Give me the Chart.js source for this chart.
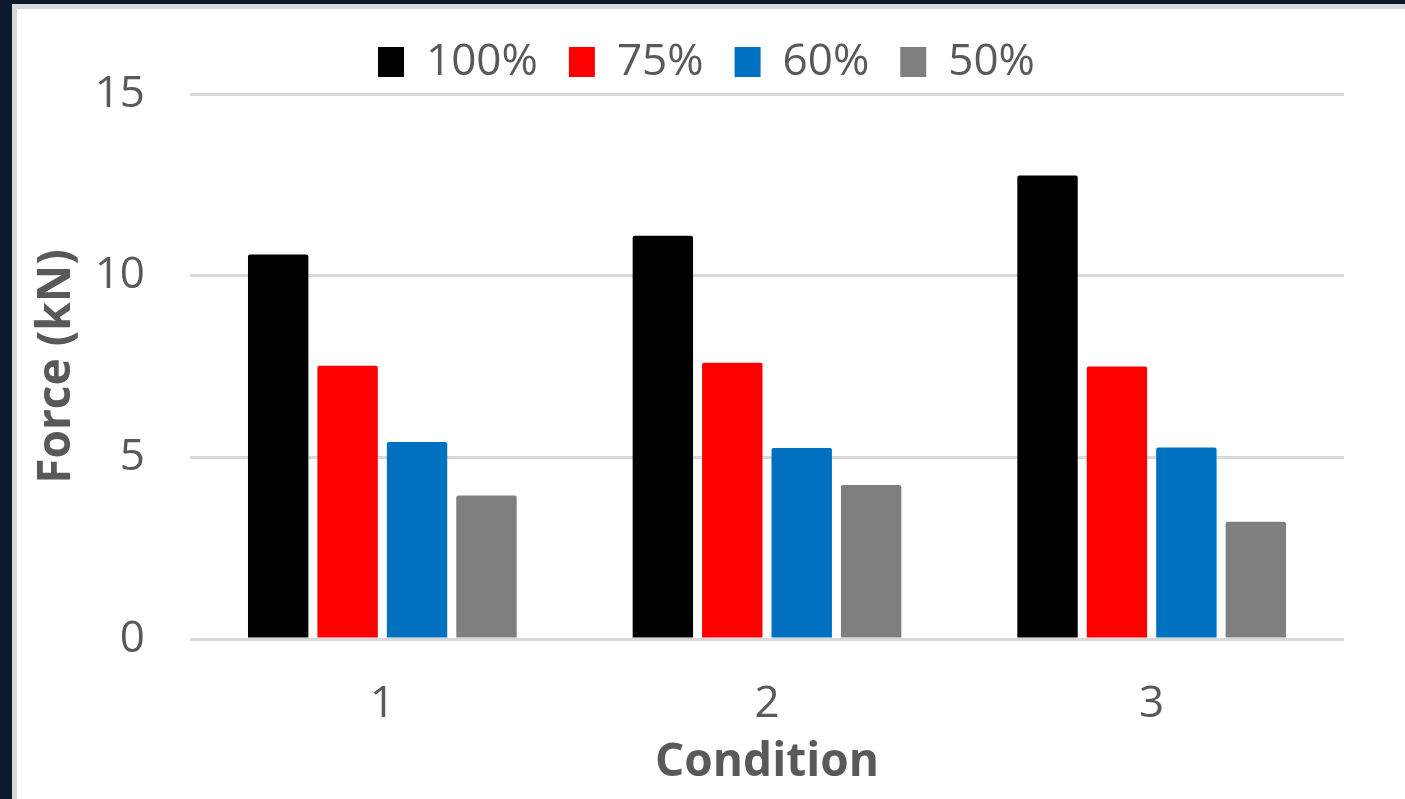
<!DOCTYPE html>
<html>
<head>
<meta charset="utf-8">
<script src="https://cdn.jsdelivr.net/npm/chart.js@4"></script>
<style>
    body { margin: 0; background: #0c1a2f; width: 1405px; height: 799px; overflow: hidden; }
    #frame {
        position: absolute; left: 12px; top: 4px; width: 1388px; height: 794px;
        background: #fff; border-left: 5px solid #d9d9d9; border-top: 5px solid #d9d9d9;
        border-right: 3px solid #d9d9d9; border-bottom: 1px solid #e4e4e4;
    }
    #wrap { position: absolute; left: 0; top: 0; width: 1385px; height: 789px; }
</style>
</head>
<body>
<div id="frame">
    <div id="wrap"><canvas id="forceChart"></canvas></div>
</div>
<script>
const conditions = ['1', '2', '3'];
const loadLevels = ['100%', '75%', '60%', '50%'];
const force100 = [10.58, 11.1, 12.76];
const force75 = [7.52, 7.6, 7.5];
const force60 = [5.42, 5.26, 5.27];
const force50 = [3.95, 4.24, 3.23];
const yTicks = [0, 5, 10, 15];

const barColors = ['#000000', '#ff0000', '#0070c0', '#7f7f7f'];
const textColor = '#595959';
const fontFamily = '"Open Sans", "Noto Sans", sans-serif';

function makeSet(label, data, color) {
    return {
        label: label,
        data: data,
        backgroundColor: color,
        borderWidth: 0,
        borderRadius: 2,
        categoryPercentage: 0.722,
        barPercentage: 0.87
    };
}

const ctx = document.getElementById('forceChart').getContext('2d');
const forceChart = new Chart(ctx, {
    type: 'bar',
    data: {
        labels: conditions,
        datasets: [
            makeSet(loadLevels[0], force100, barColors[0]),
            makeSet(loadLevels[1], force75, barColors[1]),
            makeSet(loadLevels[2], force60, barColors[2]),
            makeSet(loadLevels[3], force50, barColors[3])
        ]
    },
    options: {
        responsive: true,
        maintainAspectRatio: false,
        animation: false,
        layout: { padding: { left: 52, right: 58, top: 0, bottom: 12 } },
        plugins: {
            tooltip: { enabled: false },
            legend: {
                position: 'top',
                labels: {
                    color: textColor,
                    font: { family: fontFamily, size: 44 },
                    boxWidth: 26,
                    boxHeight: 30,
                    padding: 31
                }
            }
        },
        scales: {
            x: {
                grid: { display: false, drawTicks: false },
                border: { display: false },
                // fixed axis height: tick labels plus the title below them
                afterFit: function (scale) {
                    scale.height = 147;
                },
                ticks: {
                    color: textColor,
                    font: { family: fontFamily, size: 44, lineHeight: 1 },
                    padding: 43
                },
                title: {
                    display: true,
                    text: 'Condition',
                    color: textColor,
                    font: { family: fontFamily, size: 46, weight: 'bold', lineHeight: 1 },
                    padding: { top: 15, bottom: 0 }
                }
            },
            y: {
                min: 0,
                max: 15,
                afterBuildTicks: function (scale) {
                    scale.ticks = yTicks.map(v => ({ value: v }));
                },
                // fixed axis width so the plot starts where it should
                afterFit: function (scale) {
                    scale.width = 121;
                },
                grid: { color: '#d9d9d9', lineWidth: 3, drawTicks: false },
                border: { display: false },
                ticks: {
                    color: textColor,
                    font: { family: fontFamily, size: 44 },
                    padding: 45
                },
                title: {
                    display: true,
                    text: 'Force (kN)',
                    color: textColor,
                    font: { family: fontFamily, size: 46, weight: 'bold' },
                    padding: { top: -40, bottom: 0 }
                }
            }
        }
    }
});
</script>
</body>
</html>
